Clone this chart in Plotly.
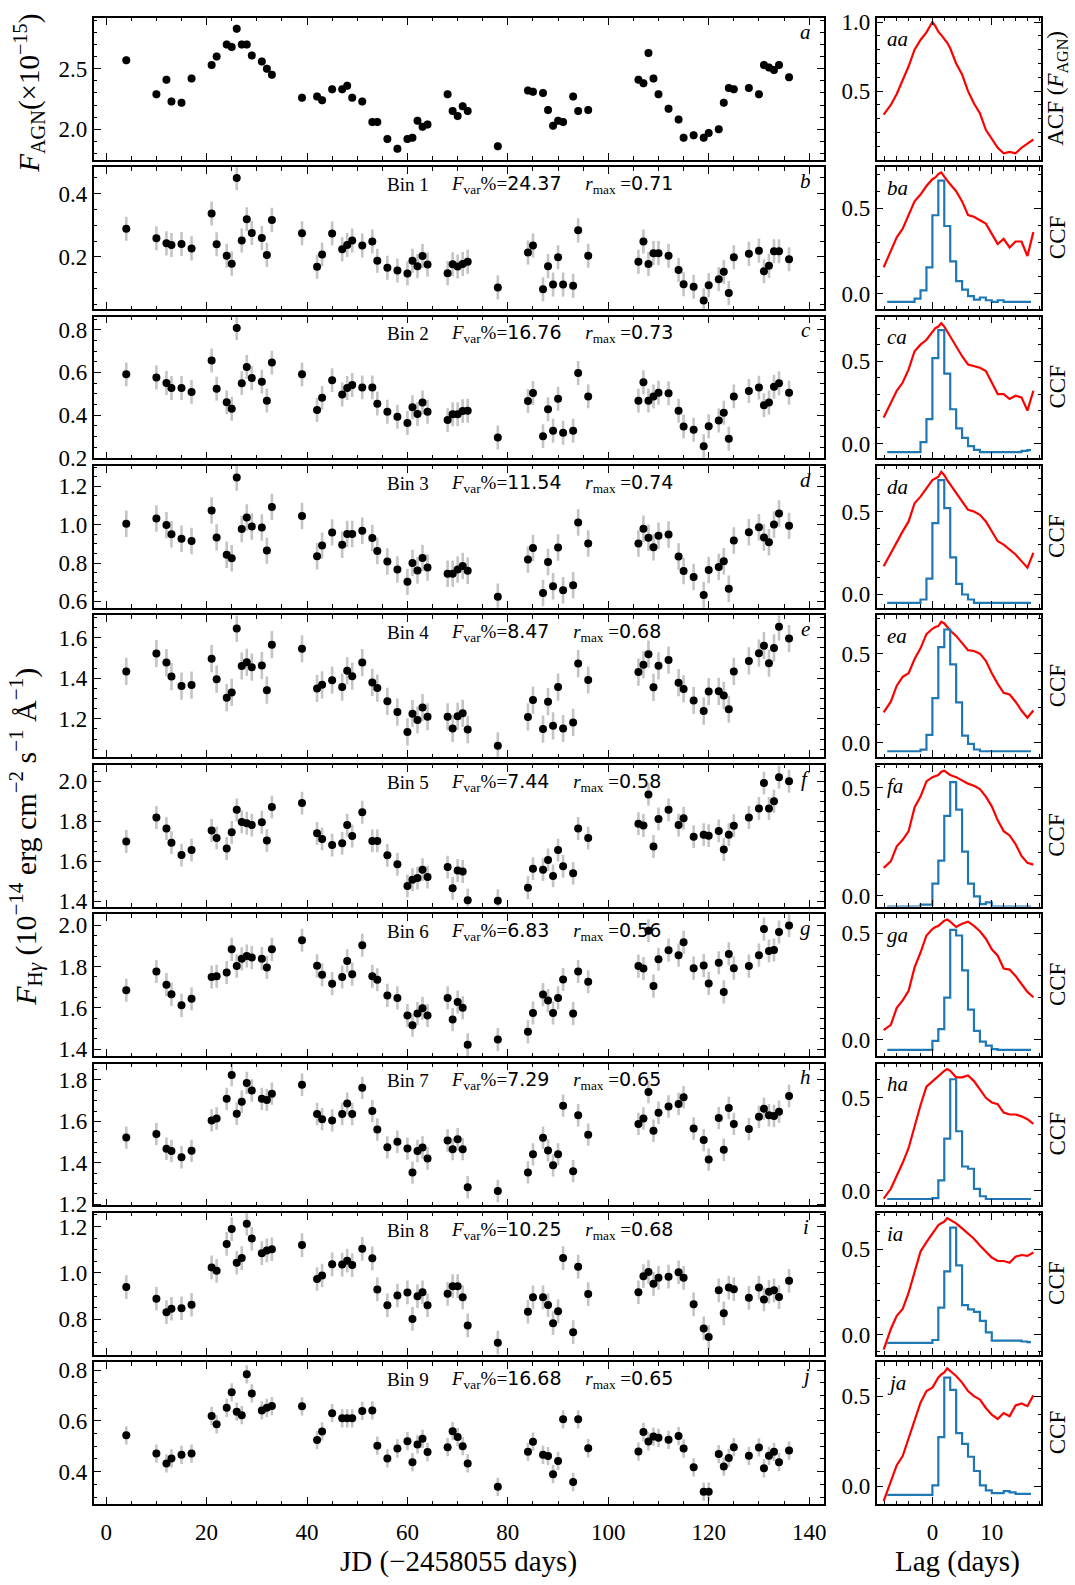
import plotly.graph_objects as go

W, H = 1075, 1585
SERIF = "Liberation Serif"
SANS = "DejaVu Sans"

# Observation epochs, JD - 2458055
EPOCH = [4, 10, 12, 13, 15, 17, 21, 22, 24, 25, 26, 27, 28, 29, 31, 32, 33, 39, 42, 43,
         45, 47, 48, 49, 51, 53, 54, 56, 58, 60, 61, 62, 63, 64, 68, 69, 70, 71, 72, 78,
         84, 85, 87, 88, 89, 90, 91, 93, 94, 96, 106, 107, 108, 109, 110, 112, 114, 115, 117, 119,
         120, 122, 123, 124, 125, 128, 130, 131, 132, 133, 134, 136]

# AGN continuum light curve (x 1e-15)
F_AGN = [2.57, 2.29, 2.41, 2.23, 2.22, 2.42, 2.53, 2.60, 2.70, 2.68,
         2.83, 2.70, 2.70, 2.61, 2.56, 2.50, 2.45, 2.26, 2.27, 2.24,
         2.33, 2.33, 2.36, 2.26, 2.23, 2.06, 2.06, 1.92, 1.84, 1.92,
         1.93, 2.07, 2.02, 2.04, 2.29, 2.15, 2.11, 2.19, 2.15, 1.86,
         2.32, 2.31, 2.30, 2.16, 2.03, 2.07, 2.06, 2.27, 2.15, 2.16,
         2.41, 2.38, 2.63, 2.42, 2.29, 2.17, 2.08, 1.93, 1.95, 1.93,
         1.97, 2.00, 2.22, 2.34, 2.33, 2.34, 2.29, 2.53, 2.51, 2.49,
         2.53, 2.43]

# H-gamma velocity-bin light curves (x 1e-14)
F_BIN1 = [0.289, 0.259, 0.243, 0.238, 0.241, 0.227, 0.337, 0.240, 0.204, 0.179,
          0.449, 0.252, 0.319, 0.276, 0.260, 0.206, 0.317, 0.275, 0.169, 0.208,
          0.274, 0.224, 0.238, 0.252, 0.236, 0.249, 0.188, 0.166, 0.157, 0.148,
          0.188, 0.171, 0.203, 0.176, 0.149, 0.177, 0.170, 0.178, 0.185, 0.104,
          0.214, 0.236, 0.098, 0.171, 0.113, 0.199, 0.113, 0.109, 0.284, 0.204,
          0.185, 0.249, 0.178, 0.212, 0.212, 0.204, 0.159, 0.114, 0.106, 0.063,
          0.111, 0.130, 0.153, 0.086, 0.199, 0.210, 0.220, 0.155, 0.172, 0.218,
          0.218, 0.193]
F_BIN2 = [0.591, 0.576, 0.551, 0.527, 0.527, 0.509, 0.656, 0.524, 0.460, 0.430,
          0.808, 0.550, 0.626, 0.574, 0.557, 0.468, 0.646, 0.591, 0.424, 0.481,
          0.564, 0.497, 0.527, 0.541, 0.530, 0.530, 0.454, 0.416, 0.393, 0.363,
          0.437, 0.405, 0.459, 0.416, 0.377, 0.404, 0.404, 0.419, 0.421, 0.296,
          0.466, 0.504, 0.302, 0.428, 0.327, 0.477, 0.318, 0.327, 0.597, 0.488,
          0.468, 0.554, 0.468, 0.487, 0.505, 0.503, 0.421, 0.347, 0.332, 0.255,
          0.348, 0.375, 0.411, 0.290, 0.488, 0.513, 0.529, 0.447, 0.459, 0.533,
          0.549, 0.505]
F_BIN3 = [1.005, 1.033, 0.998, 0.950, 0.927, 0.915, 1.074, 0.934, 0.843, 0.825,
          1.246, 0.978, 1.038, 0.991, 0.986, 0.865, 1.093, 1.045, 0.836, 0.891,
          0.960, 0.896, 0.952, 0.952, 0.969, 0.931, 0.863, 0.808, 0.766, 0.702,
          0.801, 0.761, 0.827, 0.777, 0.744, 0.744, 0.766, 0.785, 0.760, 0.625,
          0.818, 0.879, 0.644, 0.806, 0.679, 0.881, 0.658, 0.684, 1.012, 0.902,
          0.902, 0.979, 0.932, 0.883, 0.942, 0.949, 0.834, 0.759, 0.728, 0.633,
          0.764, 0.780, 0.809, 0.666, 0.918, 0.961, 0.987, 0.933, 0.909, 1.001,
          1.059, 0.994]
F_BIN4 = [1.433, 1.521, 1.477, 1.408, 1.361, 1.366, 1.496, 1.395, 1.304, 1.330,
          1.645, 1.460, 1.478, 1.454, 1.462, 1.341, 1.565, 1.545, 1.349, 1.367,
          1.390, 1.356, 1.436, 1.410, 1.477, 1.379, 1.351, 1.286, 1.233, 1.135,
          1.225, 1.194, 1.255, 1.210, 1.210, 1.152, 1.212, 1.227, 1.147, 1.067,
          1.209, 1.292, 1.149, 1.284, 1.165, 1.356, 1.152, 1.182, 1.472, 1.391,
          1.430, 1.466, 1.518, 1.355, 1.461, 1.489, 1.378, 1.347, 1.290, 1.238,
          1.334, 1.335, 1.315, 1.247, 1.433, 1.485, 1.523, 1.560, 1.474, 1.549,
          1.653, 1.595]
F_BIN5 = [1.699, 1.819, 1.764, 1.693, 1.631, 1.656, 1.754, 1.717, 1.664, 1.745,
          1.857, 1.797, 1.790, 1.781, 1.795, 1.704, 1.871, 1.891, 1.740, 1.712,
          1.681, 1.690, 1.781, 1.726, 1.845, 1.702, 1.702, 1.630, 1.585, 1.477,
          1.508, 1.516, 1.558, 1.521, 1.571, 1.465, 1.554, 1.549, 1.406, 1.403,
          1.468, 1.563, 1.558, 1.607, 1.527, 1.656, 1.575, 1.540, 1.764, 1.716,
          1.788, 1.779, 1.934, 1.674, 1.812, 1.857, 1.781, 1.815, 1.723, 1.733,
          1.728, 1.752, 1.659, 1.733, 1.778, 1.819, 1.864, 1.991, 1.864, 1.900,
          2.020, 2.000]
F_BIN6 = [1.685, 1.776, 1.712, 1.665, 1.612, 1.644, 1.749, 1.753, 1.771, 1.883,
          1.802, 1.837, 1.851, 1.843, 1.838, 1.795, 1.883, 1.927, 1.803, 1.760,
          1.717, 1.749, 1.827, 1.763, 1.903, 1.753, 1.736, 1.660, 1.648, 1.563,
          1.516, 1.572, 1.598, 1.563, 1.648, 1.543, 1.628, 1.600, 1.421, 1.446,
          1.484, 1.575, 1.664, 1.635, 1.575, 1.648, 1.737, 1.572, 1.776, 1.726,
          1.802, 1.790, 1.973, 1.705, 1.835, 1.879, 1.855, 1.917, 1.792, 1.805,
          1.718, 1.818, 1.677, 1.861, 1.792, 1.802, 1.855, 1.981, 1.875, 1.880,
          1.967, 1.999]
F_BIN7 = [1.522, 1.539, 1.468, 1.457, 1.427, 1.458, 1.605, 1.614, 1.709, 1.824,
          1.637, 1.695, 1.786, 1.749, 1.709, 1.704, 1.734, 1.777, 1.636, 1.611,
          1.605, 1.636, 1.686, 1.636, 1.762, 1.650, 1.561, 1.475, 1.502, 1.469,
          1.353, 1.457, 1.474, 1.421, 1.508, 1.466, 1.514, 1.466, 1.282, 1.264,
          1.354, 1.441, 1.521, 1.460, 1.388, 1.441, 1.676, 1.360, 1.630, 1.536,
          1.588, 1.614, 1.742, 1.555, 1.642, 1.672, 1.684, 1.717, 1.566, 1.510,
          1.416, 1.616, 1.463, 1.665, 1.588, 1.563, 1.622, 1.661, 1.630, 1.626,
          1.647, 1.723]
F_BIN8 = [0.939, 0.889, 0.831, 0.846, 0.848, 0.863, 1.024, 1.009, 1.125, 1.189,
          1.044, 1.064, 1.212, 1.148, 1.085, 1.097, 1.102, 1.120, 0.974, 0.989,
          1.037, 1.036, 1.053, 1.034, 1.104, 1.063, 0.929, 0.861, 0.903, 0.916,
          0.802, 0.900, 0.917, 0.861, 0.910, 0.943, 0.943, 0.895, 0.774, 0.700,
          0.833, 0.895, 0.895, 0.862, 0.784, 0.835, 1.064, 0.745, 1.027, 0.909,
          0.917, 0.986, 1.004, 0.953, 0.979, 0.984, 1.003, 0.979, 0.865, 0.761,
          0.724, 0.925, 0.826, 0.937, 0.930, 0.893, 0.937, 0.886, 0.919, 0.925,
          0.896, 0.966]
F_BIN9 = [0.543, 0.471, 0.432, 0.452, 0.466, 0.471, 0.619, 0.586, 0.651, 0.712,
          0.636, 0.622, 0.783, 0.708, 0.641, 0.651, 0.658, 0.657, 0.524, 0.558,
          0.630, 0.610, 0.610, 0.610, 0.639, 0.641, 0.502, 0.452, 0.491, 0.520,
          0.437, 0.507, 0.529, 0.477, 0.496, 0.559, 0.536, 0.500, 0.432, 0.340,
          0.478, 0.518, 0.466, 0.461, 0.390, 0.442, 0.606, 0.359, 0.606, 0.492,
          0.479, 0.556, 0.519, 0.538, 0.533, 0.525, 0.540, 0.491, 0.417, 0.321,
          0.321, 0.469, 0.420, 0.454, 0.496, 0.462, 0.495, 0.413, 0.462, 0.478,
          0.437, 0.483]

# Typical 1-sigma flux uncertainty of each light curve
FLUX_ERR = [0.035, 0.038, 0.056, 0.069, 0.067, 0.057, 0.056, 0.054, 0.051, 0.036]

BIN_FVAR = ["24.37", "16.76", "11.54", "8.47", "7.44", "6.83", "7.29", "10.25", "16.68"]
BIN_RMAX = ["0.71", "0.73", "0.74", "0.68", "0.58", "0.56", "0.65", "0.68", "0.65"]

# Lag grid (days) for the ACF / CCF curves
LAG = [-8.2, -7, -6, -5, -4, -3, -2, -1, 0, 0.5, 1, 1.5, 2, 2.5, 3,
       4, 5, 6, 7, 8, 9, 10, 11, 12, 13, 14, 15, 16, 17]
ACF_AGN = [0.33, 0.40, 0.48, 0.58, 0.68, 0.80, 0.87, 0.925, 1.0, 0.97, 0.93, 0.905, 0.88, 0.85, 0.81,
           0.70, 0.62, 0.50, 0.41, 0.34, 0.22, 0.15, 0.09, 0.05, 0.06, 0.05, 0.09, 0.12, 0.15]
CCF_BIN1 = [0.154, 0.25, 0.33, 0.38, 0.46, 0.54, 0.58, 0.63, 0.67, 0.68, 0.70, 0.71, 0.685, 0.66, 0.64,
            0.60, 0.54, 0.46, 0.45, 0.43, 0.41, 0.35, 0.29, 0.32, 0.27, 0.305, 0.305, 0.22, 0.36]
CCF_BIN2 = [0.158, 0.25, 0.32, 0.37, 0.45, 0.56, 0.60, 0.63, 0.68, 0.70, 0.71, 0.73, 0.71, 0.68, 0.65,
            0.59, 0.53, 0.48, 0.47, 0.46, 0.44, 0.37, 0.30, 0.30, 0.27, 0.29, 0.28, 0.20, 0.32]
CCF_BIN3 = [0.169, 0.25, 0.32, 0.38, 0.44, 0.55, 0.59, 0.64, 0.69, 0.70, 0.71, 0.74, 0.72, 0.69, 0.665,
            0.61, 0.56, 0.51, 0.50, 0.48, 0.44, 0.38, 0.32, 0.30, 0.27, 0.24, 0.20, 0.16, 0.25]
CCF_BIN4 = [0.17, 0.23, 0.32, 0.37, 0.39, 0.47, 0.53, 0.61, 0.64, 0.65, 0.655, 0.68, 0.67, 0.65, 0.63,
            0.60, 0.56, 0.52, 0.515, 0.50, 0.46, 0.39, 0.33, 0.28, 0.27, 0.23, 0.18, 0.14, 0.18]
CCF_BIN5 = [0.13, 0.16, 0.23, 0.26, 0.30, 0.41, 0.46, 0.53, 0.55, 0.555, 0.56, 0.575, 0.58, 0.57, 0.56,
            0.55, 0.535, 0.52, 0.51, 0.495, 0.46, 0.415, 0.35, 0.30, 0.28, 0.24, 0.185, 0.153, 0.145]
CCF_BIN6 = [0.045, 0.07, 0.15, 0.185, 0.23, 0.34, 0.41, 0.49, 0.52, 0.53, 0.535, 0.55, 0.56, 0.565, 0.555,
            0.53, 0.545, 0.555, 0.535, 0.51, 0.475, 0.425, 0.395, 0.335, 0.33, 0.30, 0.26, 0.225, 0.20]
CCF_BIN7 = [-0.043, 0.01, 0.08, 0.15, 0.23, 0.35, 0.46, 0.56, 0.59, 0.60, 0.62, 0.635, 0.645, 0.655, 0.645,
            0.61, 0.61, 0.62, 0.59, 0.545, 0.50, 0.475, 0.465, 0.42, 0.41, 0.41, 0.40, 0.385, 0.36]
CCF_BIN8 = [-0.087, 0.033, 0.11, 0.15, 0.245, 0.36, 0.485, 0.54, 0.59, 0.61, 0.64, 0.65, 0.66, 0.68, 0.67,
            0.65, 0.62, 0.59, 0.56, 0.52, 0.485, 0.45, 0.43, 0.43, 0.42, 0.455, 0.465, 0.46, 0.48]
CCF_BIN9 = [-0.084, 0.032, 0.116, 0.167, 0.266, 0.369, 0.463, 0.528, 0.547, 0.575, 0.603, 0.62, 0.631, 0.654, 0.64,
            0.612, 0.575, 0.528, 0.50, 0.481, 0.434, 0.397, 0.373, 0.406, 0.388, 0.448, 0.459, 0.444, 0.504]

# Centroid-lag distributions (scaled), bin edges in days
CCCD_EDGES = [-7.6, -7, -6, -5, -4, -3, -2, -1, 0, 1, 2, 3, 4, 5, 6, 7, 8, 9, 10,
              11, 12, 13, 14, 15, 16, 16.6]
CCCD_BIN1 = [-0.048, -0.048, -0.048, -0.048, -0.048, -0.029, 0.019, 0.154, 0.459, 0.662, 0.396, 0.189, 0.073,
             0.023, -0.015, -0.035, -0.023, -0.039, -0.048, -0.039, -0.048, -0.048, -0.048, -0.048, -0.048]
CCCD_BIN2 = [-0.052, -0.052, -0.052, -0.052, -0.052, -0.052, 0.008, 0.148, 0.518, 0.688, 0.424, 0.208, 0.092,
             0.034, -0.016, -0.038, -0.052, -0.052, -0.052, -0.052, -0.052, -0.052, -0.052, -0.045, -0.040]
CCCD_BIN3 = [-0.052, -0.052, -0.052, -0.052, -0.052, -0.052, -0.032, 0.094, 0.430, 0.690, 0.520, 0.223, 0.062,
             -0.002, -0.032, -0.052, -0.052, -0.052, -0.052, -0.052, -0.052, -0.052, -0.052, -0.052, -0.052]
CCCD_BIN4 = [-0.049, -0.049, -0.049, -0.049, -0.049, -0.049, -0.040, 0.043, 0.250, 0.537, 0.636, 0.440, 0.226,
             0.039, -0.007, -0.039, -0.049, -0.049, -0.049, -0.049, -0.049, -0.049, -0.049, -0.049, -0.049]
CCCD_BIN5 = [-0.049, -0.049, -0.049, -0.049, -0.049, -0.049, -0.040, -0.040, 0.057, 0.164, 0.371, 0.527, 0.400,
             0.205, 0.057, -0.002, -0.038, -0.030, -0.049, -0.049, -0.049, -0.049, -0.049, -0.049, -0.049]
CCCD_BIN6 = [-0.048, -0.048, -0.048, -0.048, -0.048, -0.048, -0.048, -0.048, -0.005, 0.050, 0.198, 0.516, 0.490,
             0.326, 0.142, 0.042, -0.009, -0.028, -0.044, -0.048, -0.048, -0.048, -0.048, -0.048, -0.048]
CCCD_BIN7 = [-0.045, -0.045, -0.045, -0.045, -0.045, -0.045, -0.045, -0.045, -0.040, 0.055, 0.280, 0.600, 0.320,
             0.130, 0.118, 0.010, -0.030, -0.045, -0.045, -0.045, -0.045, -0.045, -0.045, -0.045, -0.045]
CCCD_BIN8 = [-0.048, -0.048, -0.048, -0.048, -0.048, -0.048, -0.048, -0.048, -0.031, 0.158, 0.370, 0.625, 0.404,
             0.173, 0.148, 0.133, 0.081, 0.013, -0.035, -0.035, -0.035, -0.035, -0.035, -0.040, -0.044]
CCCD_BIN9 = [-0.049, -0.049, -0.049, -0.049, -0.049, -0.049, -0.049, -0.049, 0.004, 0.272, 0.603, 0.534, 0.294,
             0.234, 0.163, 0.084, 0.004, -0.024, -0.039, -0.039, -0.028, -0.035, -0.043, -0.043, -0.043]

LEFT_YRANGE = [[1.75, 2.92], [0.036, 0.483], [0.198, 0.861], [0.567, 1.306], [1.011, 1.709],
               [1.374, 2.082], [1.367, 2.053], [1.195, 1.879], [0.648, 1.258], [0.272, 0.83]]
RIGHT_YRANGE = [[0.005, 1.03], [-0.09, 0.74], [-0.09, 0.77], [-0.082, 0.775], [-0.082, 0.715],
                [-0.049, 0.607], [-0.076, 0.59], [-0.079, 0.684], [-0.117, 0.71], [-0.10, 0.687]]
LEFT_XRANGE = [-2.48, 142.9]
RIGHT_XRANGE = [-9.4, 18.3]

PANEL_TAGS = ["a", "b", "c", "d", "e", "f", "g", "h", "i", "j"]

light_curves = [F_AGN, F_BIN1, F_BIN2, F_BIN3, F_BIN4, F_BIN5, F_BIN6, F_BIN7, F_BIN8, F_BIN9]
ccf_curves = [ACF_AGN, CCF_BIN1, CCF_BIN2, CCF_BIN3, CCF_BIN4, CCF_BIN5, CCF_BIN6, CCF_BIN7, CCF_BIN8, CCF_BIN9]
cccd_hists = [None, CCCD_BIN1, CCCD_BIN2, CCCD_BIN3, CCCD_BIN4, CCCD_BIN5, CCCD_BIN6, CCCD_BIN7, CCCD_BIN8, CCCD_BIN9]

# page geometry (pixels)
LEFT_X0, LEFT_X1 = 94, 826
RIGHT_X0, RIGHT_X1 = 879, 1044
ROW_TOP0, ROW_STEP, ROW_H = 10, 151.4, 143.6


def px(x):
    return x / W


def py(y):
    return 1 - y / H


def sfx(n):
    return "" if n == 1 else str(n)


fig = go.Figure()
layout = dict(
    width=W, height=H,
    margin=dict(l=0, r=0, t=0, b=0),
    paper_bgcolor="white", plot_bgcolor="white",
    showlegend=False,
    font=dict(family=SERIF, color="black"),
)

axis_common = dict(
    showline=True, linecolor="black", linewidth=1.6, mirror="allticks",
    ticks="inside", ticklen=7, tickwidth=1.2, tickcolor="black",
    showgrid=False, zeroline=False,
    tickfont=dict(family=SERIF, size=23, color="black"),
)

annotations = []

for i in range(10):
    top = ROW_TOP0 + i * ROW_STEP
    bot = top + ROW_H
    ydom = [py(bot), py(top)]
    nl, nr = 2 * i + 1, 2 * i + 2
    last = i == 9

    # light curve
    fig.add_trace(go.Scatter(
        x=EPOCH, y=light_curves[i], mode="markers",
        marker=dict(color="black", size=8),
        error_y=dict(type="constant", value=FLUX_ERR[i], color="#c4c4c4", thickness=2.6, width=0),
        xaxis="x" + sfx(nl), yaxis="y" + sfx(nl), hoverinfo="skip",
    ))
    # correlation function
    fig.add_trace(go.Scatter(
        x=LAG, y=ccf_curves[i], mode="lines",
        line=dict(color="#ff0000", width=2.2),
        xaxis="x" + sfx(nr), yaxis="y" + sfx(nr), hoverinfo="skip",
    ))
    if cccd_hists[i] is not None:
        h = cccd_hists[i]
        fig.add_trace(go.Scatter(
            x=CCCD_EDGES, y=h + [h[-1]], mode="lines", line_shape="hv",
            line=dict(color="#1f77b4", width=2.2),
            xaxis="x" + sfx(nr), yaxis="y" + sfx(nr), hoverinfo="skip",
        ))

    ydtick = 0.5 if i == 0 else 0.2
    yminor = 0.1 if i == 0 else 0.05
    layout["xaxis" + sfx(nl)] = dict(
        axis_common, domain=[px(LEFT_X0), px(LEFT_X1)], anchor="y" + sfx(nl),
        range=LEFT_XRANGE, tick0=0, dtick=20, showticklabels=last, ticklabelstandoff=6,
        minor=dict(ticks="inside", ticklen=3.5, tickwidth=1, tickcolor="black", dtick=5, tick0=0),
    )
    layout["yaxis" + sfx(nl)] = dict(
        axis_common, domain=ydom, anchor="x" + sfx(nl),
        range=LEFT_YRANGE[i], tick0=0, dtick=ydtick, tickformat=".1f",
        minor=dict(ticks="inside", ticklen=3.5, tickwidth=1, tickcolor="black", dtick=yminor, tick0=0),
    )
    layout["xaxis" + sfx(nr)] = dict(
        axis_common, domain=[px(RIGHT_X0), px(RIGHT_X1)], anchor="y" + sfx(nr),
        range=RIGHT_XRANGE, tick0=0, dtick=10, showticklabels=last, ticklabelstandoff=6,
        minor=dict(ticks="inside", ticklen=3.5, tickwidth=1, tickcolor="black", dtick=2, tick0=0),
    )
    layout["yaxis" + sfx(nr)] = dict(
        axis_common, domain=ydom, anchor="x" + sfx(nr),
        range=RIGHT_YRANGE[i], tick0=0, dtick=0.5, tickformat=".1f",
        minor=dict(ticks="inside", ticklen=3.5, tickwidth=1, tickcolor="black", dtick=0.1, tick0=0),
    )

    # panel tags
    annotations.append(dict(
        text="<i>%s</i>" % PANEL_TAGS[i], x=px(808), y=py(top + 14), xref="paper", yref="paper",
        xanchor="center", yanchor="middle", showarrow=False, font=dict(family=SERIF, size=21),
    ))
    annotations.append(dict(
        text="<i>%sa</i>" % PANEL_TAGS[i], x=px(887), y=py(top + 21), xref="paper", yref="paper",
        xanchor="left", yanchor="middle", showarrow=False, font=dict(family=SERIF, size=21),
    ))
    # right-hand y titles
    rtitle = "ACF (<i>F</i><sub>AGN</sub>)" if i == 0 else "CCF"
    annotations.append(dict(
        text=rtitle, x=px(1060), y=py((top + bot) / 2), xref="paper", yref="paper",
        xanchor="center", yanchor="middle", textangle=-90, showarrow=False,
        font=dict(family=SERIF, size=23),
    ))
    # bin statistics
    if i > 0:
        annotations.append(dict(
            text="Bin %d" % i, x=px(386), y=py(top + 17.5), xref="paper", yref="paper",
            xanchor="left", yanchor="middle", showarrow=False, font=dict(family=SERIF, size=19),
        ))
        stat = ("<i>F</i><sub>var</sub>%%=<span style=\"font-family:DejaVu Sans\">%s</span>"
                "&nbsp;&nbsp;&nbsp;&nbsp;&nbsp;"
                "<i>r</i><sub>max</sub> =<span style=\"font-family:DejaVu Sans\">%s</span>"
                % (BIN_FVAR[i - 1], BIN_RMAX[i - 1]))
        annotations.append(dict(
            text=stat, x=px(450), y=py(top + 17.5), xref="paper", yref="paper",
            xanchor="left", yanchor="middle", showarrow=False, font=dict(family=SERIF, size=19),
        ))

# left-hand y titles and bottom axis titles
annotations.append(dict(
    text="<i>F</i><sub>AGN</sub>(×10<sup>−15</sup>)", x=px(29), y=py(86), xref="paper", yref="paper",
    xanchor="center", yanchor="middle", textangle=-90, showarrow=False, font=dict(family=SERIF, size=29),
))
annotations.append(dict(
    text="<i>F</i><sub>H<i>γ</i></sub> (10<sup>−14</sup> erg cm<sup>−2</sup> s<sup>−1</sup> Å<sup>−1</sup>)",
    x=px(26), y=py(840), xref="paper", yref="paper",
    xanchor="center", yanchor="middle", textangle=-90, showarrow=False, font=dict(family=SERIF, size=30),
))
annotations.append(dict(
    text="JD (−2458055 days)", x=px(460), y=py(1574), xref="paper", yref="paper",
    xanchor="center", yanchor="middle", showarrow=False, font=dict(family=SERIF, size=29),
))
annotations.append(dict(
    text="Lag (days)", x=px(960), y=py(1574), xref="paper", yref="paper",
    xanchor="center", yanchor="middle", showarrow=False, font=dict(family=SERIF, size=29),
))

layout["annotations"] = annotations
fig.update_layout(**layout)
fig.write_html("out.html")
